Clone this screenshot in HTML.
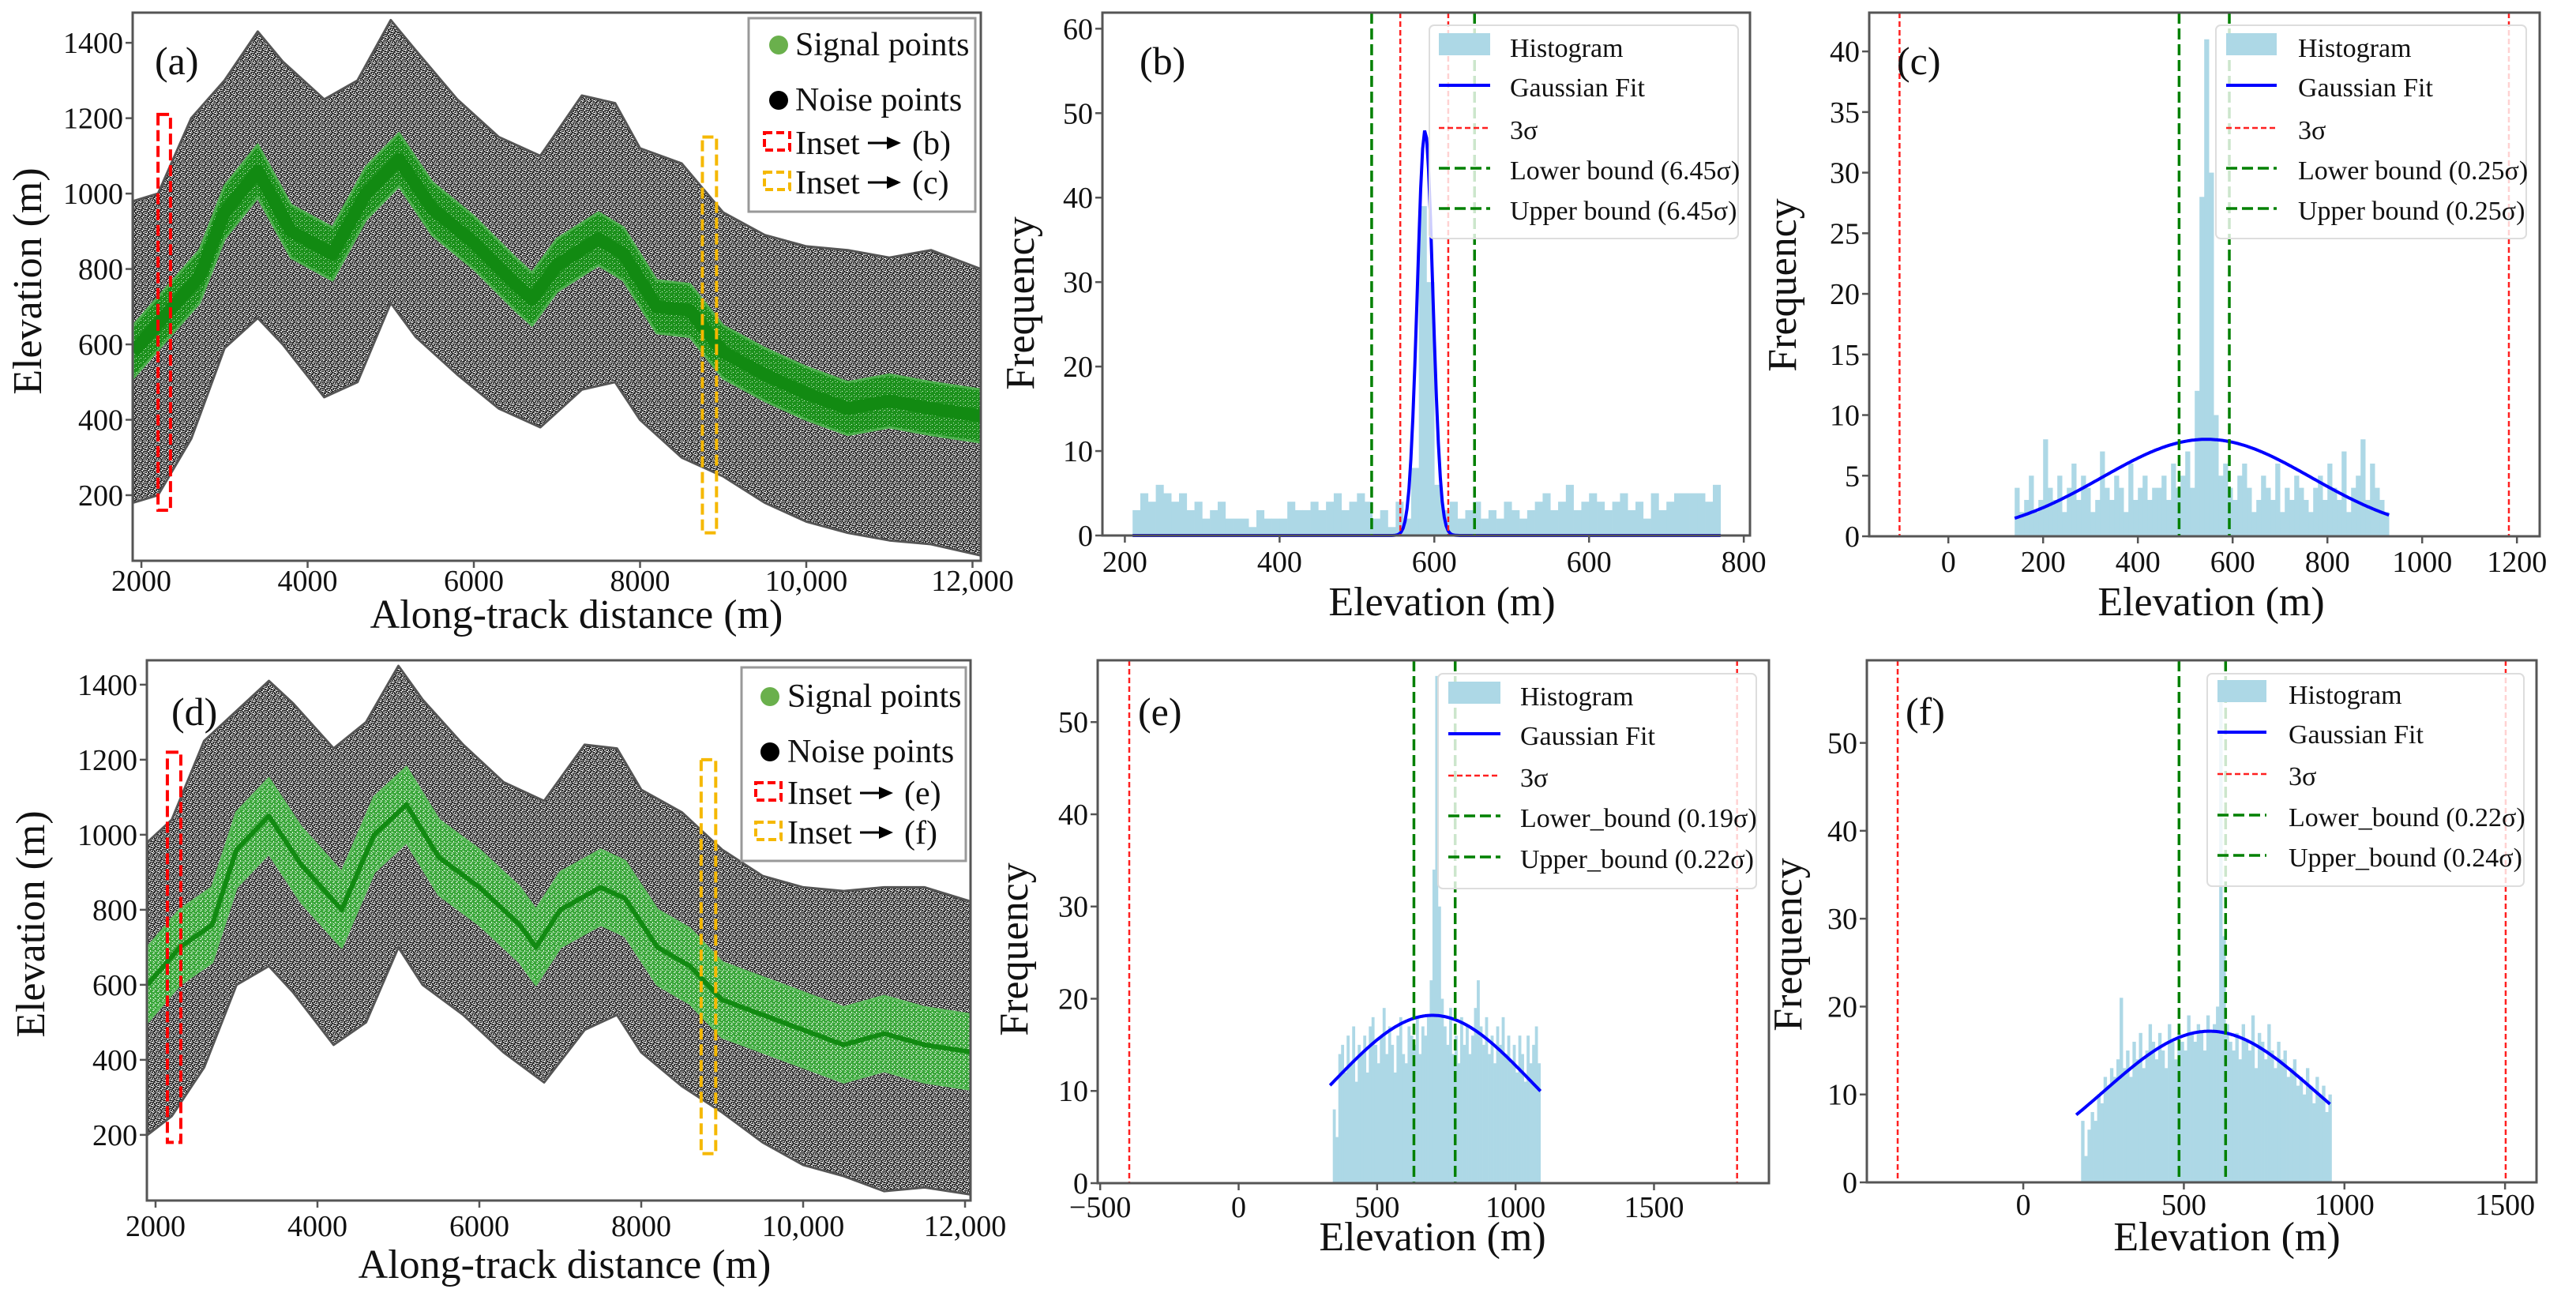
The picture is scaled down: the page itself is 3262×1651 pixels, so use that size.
<!DOCTYPE html>
<html><head><meta charset="utf-8">
<style>
html,body{margin:0;padding:0;background:#fff;}
svg{display:block;font-family:"Liberation Serif",serif;}
</style></head>
<body>
<svg id="root" width="3262" height="1651" viewBox="0 0 3262 1651" xmlns="http://www.w3.org/2000/svg">
<defs>
<pattern id="noisePat" width="8" height="8" patternUnits="userSpaceOnUse">
<rect width="8" height="8" fill="#2a2a2a"/>
<rect x="1" y="0" width="2" height="1" fill="#e0e0e0"/><rect x="5" y="1" width="1" height="2" fill="#f0f0f0"/>
<rect x="0" y="2" width="2" height="1" fill="#cfcfcf"/><rect x="3" y="3" width="2" height="1" fill="#fff"/>
<rect x="7" y="4" width="1" height="2" fill="#ddd"/><rect x="2" y="5" width="1" height="2" fill="#eee"/>
<rect x="5" y="6" width="2" height="1" fill="#e8e8e8"/><rect x="0" y="7" width="2" height="1" fill="#fff"/>
<rect x="4" y="4" width="2" height="1" fill="#aaa"/><rect x="6" y="2" width="2" height="1" fill="#bbb"/>
<rect x="3" y="7" width="1" height="1" fill="#ccc"/><rect x="0" y="5" width="1" height="1" fill="#999"/>
<rect x="6" y="0" width="1" height="1" fill="#ddd"/><rect x="4" y="1" width="1" height="1" fill="#999"/>
<rect x="7" y="7" width="1" height="1" fill="#bbb"/><rect x="1" y="4" width="1" height="1" fill="#aaa"/>
</pattern>
<pattern id="sigPatA" width="6" height="6" patternUnits="userSpaceOnUse">
<rect width="6" height="6" fill="#1c911c"/>
<rect x="1" y="1" width="1" height="1" fill="#bfe6bf"/><rect x="4" y="3" width="1" height="1" fill="#e5f5e5"/>
<rect x="2" y="4" width="1" height="1" fill="#9fd39f"/>
</pattern>
<pattern id="sigPatD" width="6" height="6" patternUnits="userSpaceOnUse">
<rect width="6" height="6" fill="#3aa73a"/>
<rect x="1" y="1" width="2" height="1" fill="#d9f0d9"/><rect x="4" y="3" width="1" height="2" fill="#eef9ee"/>
<rect x="0" y="4" width="1" height="1" fill="#b5e0b5"/><rect x="3" y="0" width="1" height="1" fill="#cdeccd"/>
<rect x="2" y="5" width="1" height="1" fill="#ffffff"/>
</pattern>
</defs>
</svg>
<script>
// ---------- scatter panel data ----------
const noiseXA = [1900,2200,2600,3000,3400,3700,4200,4600,5000,5300,5800,6300,6800,7300,7700,8000,8500,9000,9500,10000,10500,11000,11500,12100];
const noiseTopA = [980,1000,1200,1300,1430,1350,1250,1300,1460,1380,1250,1150,1100,1260,1240,1120,1080,950,890,860,850,830,850,800];
const noiseBotA = [180,200,350,590,670,600,460,500,710,620,520,430,380,480,500,400,300,250,180,130,100,80,70,40];
const signalXA = [1900,2300,2700,3000,3400,3800,4300,4700,5100,5500,6000,6500,6700,7000,7500,7800,8200,8600,9000,9500,10000,10500,11000,11500,12100];
const signalYA = [580,680,780,950,1060,900,840,1000,1090,960,870,760,720,810,880,840,700,690,580,520,470,430,450,430,410];
const noiseXD = [1900,2200,2600,3000,3400,3700,4200,4600,5000,5300,5800,6300,6800,7300,7700,8000,8500,9000,9500,10000,10500,11000,11500,12100];
const noiseTopD = [980,1040,1250,1330,1410,1350,1230,1300,1450,1360,1240,1140,1090,1240,1230,1120,1060,960,890,860,850,860,860,820];
const noiseBotD = [200,250,380,600,650,580,440,500,700,600,520,420,340,480,520,420,330,260,180,120,90,50,60,40];
const signalXD = [1900,2300,2700,3000,3400,3800,4300,4700,5100,5500,6000,6500,6700,7000,7500,7800,8200,8600,9000,9500,10000,10500,11000,11500,12100];
const signalYD = [600,700,760,960,1050,920,800,1000,1080,940,860,760,700,800,860,830,700,650,560,520,480,440,470,440,420];
const scatterXTicks = [2000,4000,6000,8000,10000,12000];
const scatterXLabels = ["2000","4000","6000","8000","10,000","12,000"];
const scatterYTicks = [200,400,600,800,1000,1200,1400];

// ---------- histogram data ----------
const histB = [3,5,4,6,5,4,5,3,4,2, 3,4,2,2,2,1,3,2,2,2, 4,3,3,4,3,4,5,3,4,5, 4,2,3,1,4,2,8,39,30,6, 3,4,2,3,4,2,3,2,4,3, 2,3,4,5,3,4,6,3,4,5, 4,3,4,5,3,4,2,5,3,4, 5,5,5,5,4,6];
const histC = [4,2,3,5,2,3,8,4,3,5, 2,4,6,3,5,4,2,3,7,4, 3,5,4,2,6,3,4,5,3,4, 4,5,3,6,4,5,7,4,12,28, 41,30,10,5,6,4,3,5,6,4, 2,3,5,4,3,6,2,4,3,5, 4,3,2,4,5,3,6,4,3,7, 2,4,5,8,3,6,4,3,2];
const histE = [8,5,14,15,12,16,13,17,11,15, 14,16,12,17,18,15,13,16,19,14, 17,15,12,16,18,14,13,17,16,15, 18,14,17,16,18,22,34,55,30,20, 17,15,19,14,16,13,18,15,17,14, 16,19,22,17,15,18,14,16,13,17, 15,18,14,16,13,15,12,16,14,11, 16,13,15,17,13];
const histF = [7,3,6,8,7,10,9,12,11,13, 12,14,21,13,15,12,16,14,17,13, 15,18,16,14,17,15,13,18,16,14, 17,16,15,19,17,16,18,17,15,19, 17,18,20,55,28,18,16,15,17,14, 18,16,15,19,13,17,16,14,18,15, 13,16,14,15,12,13,14,11,12,10, 13,11,9,12,10,11,8,10];
const histStart = [210,140,340,180];
const histBinW = [10,10,10,10];
const gaussPeak = [48,8,18.2,17.2];
const gaussMu = [588,545,700,580];
const gaussSigma = [10,221,356,327];
const gaussRange = [[210,970],[140,930],[330,1090],[165,955]];
const sigmaLines = [[556,618],[-103,1183],[-395,1800],[-391,1502]];
const boundLines = [[519,652],[487,593],[633,782],[485,630]];
const histXTicksB = [200,400,600,800,1000];
const histXLabelsB = ["200","400","600","600","800"];
const histXTicksC = [0,200,400,600,800,1000,1200];
const histXTicksE = [-500,0,500,1000,1500];
const histXTicksF = [0,500,1000,1500];
const histYTicksB = [0,10,20,30,40,50,60];
const histYTicksC = [0,5,10,15,20,25,30,35,40];
const histYTicksEF = [0,10,20,30,40,50];

const NS="http://www.w3.org/2000/svg";
const root=document.getElementById('root');
function add(tag,attrs,parent,name,inter){
  const el=document.createElementNS(NS,tag);
  for(const k in attrs) el.setAttribute(k,attrs[k]);
  
  
  (parent||root).appendChild(el);
  return el;
}
function lin(d0,d1,r0,r1){return v=>r0+(v-d0)*(r1-r0)/(d1-d0);}
function txt(s,x,y,size,parent,name,anchor,rot){
  const a={x:x,y:y,'font-size':size,fill:'#111','text-anchor':anchor||'middle'};
  if(rot) a.transform='rotate(-90 '+x+' '+y+')';
  const t=add('text',a,parent,name);
  t.textContent=s;return t;
}
function frame(g,b){
  add('rect',{x:b.l,y:b.t,width:b.r-b.l,height:b.b-b.t,fill:'none',stroke:'#555','stroke-width':3},g,'plot-frame');
}

function scatterPanel(cfg){
  const g=add('g',{},root,'panel-'+cfg.id);
  const b=cfg.box;
  const X=lin(cfg.xd[0],cfg.xd[1],b.l,b.r), Y=lin(cfg.yd[0],cfg.yd[1],b.b,b.t);
  const clip=add('clipPath',{id:'clip'+cfg.id},g,'clip');
  add('rect',{x:b.l,y:b.t,width:b.r-b.l,height:b.b-b.t},clip,'clip-rect');
  const pg=add('g',{'clip-path':'url(#clip'+cfg.id+')'},g,'plot-area');
  let pts=[];
  cfg.nx.forEach((x,i)=>pts.push(X(x).toFixed(1)+','+Y(cfg.nt[i]).toFixed(1)));
  for(let i=cfg.nx.length-1;i>=0;i--) pts.push(X(cfg.nx[i]).toFixed(1)+','+Y(cfg.nb[i]).toFixed(1));
  add('polygon',{points:pts.join(' '),fill:'url(#noisePat)',stroke:'#555','stroke-width':3,'stroke-linejoin':'round'},pg,'noise-points-cloud');
  let sp=[];
  cfg.sx.forEach((x,i)=>sp.push(X(x).toFixed(1)+','+Y(cfg.sy[i]+cfg.hw).toFixed(1)));
  for(let i=cfg.sx.length-1;i>=0;i--) sp.push(X(cfg.sx[i]).toFixed(1)+','+Y(cfg.sy[i]-cfg.hw).toFixed(1));
  add('polygon',{points:sp.join(' '),fill:cfg.sigFill,stroke:cfg.sigEdge,'stroke-width':3,'stroke-linejoin':'round'},pg,'signal-points-band');
  add('polyline',{points:cfg.sx.map((x,i)=>X(x).toFixed(1)+','+Y(cfg.sy[i]).toFixed(1)).join(' '),fill:'none',stroke:'#128a12','stroke-width':cfg.cw,'stroke-linejoin':'round'},pg,'signal-centerline');
  cfg.insets.forEach(r=>{
    add('rect',{x:X(r.x0),y:Y(r.y1),width:X(r.x1)-X(r.x0),height:Y(r.y0)-Y(r.y1),fill:'none',stroke:r.c,'stroke-width':4,'stroke-dasharray':'14 6'},pg,r.name);
  });
  frame(g,b);
  scatterXTicks.forEach((v,i)=>{
    add('line',{x1:X(v),x2:X(v),y1:b.b,y2:b.b+9,stroke:'#555','stroke-width':2.5},g,'x-tick');
    txt(scatterXLabels[i],X(v),cfg.xtY,38,g,'x-tick-label');
  });
  scatterYTicks.forEach(v=>{
    add('line',{x1:b.l-9,x2:b.l,y1:Y(v),y2:Y(v),stroke:'#555','stroke-width':2.5},g,'y-tick');
    txt(String(v),b.l-12,Y(v)+13,38,g,'y-tick-label','end');
  });
  txt('Along-track distance (m)',cfg.xl[0],cfg.xl[1],52,g,'x-axis-title');
  txt('Elevation (m)',cfg.yl[0],cfg.yl[1],52,g,'y-axis-title','middle',true);
  txt(cfg.tag,cfg.tg[0],cfg.tg[1],50,g,'panel-label','start');
  const L=cfg.leg;
  const lg=add('g',{},g,'legend');
  add('rect',{x:L.x0,y:L.y0,width:L.x1-L.x0,height:L.y1-L.y0,fill:'#fff','fill-opacity':0.85,stroke:'#999','stroke-width':3},lg,'legend-box');
  add('circle',{cx:L.mx,cy:L.ys[0]-13,r:12,fill:'#6ab04c'},lg,'legend-signal-marker');
  txt('Signal points',L.tx,L.ys[0],42,lg,'legend-entry-signal','start');
  add('circle',{cx:L.mx,cy:L.ys[1]-13,r:12,fill:'#000'},lg,'legend-noise-marker');
  txt('Noise points',L.tx,L.ys[1],42,lg,'legend-entry-noise','start');
  ['#f00','#f5b800'].forEach((c,k)=>{
    const y=L.ys[2+k];
    add('rect',{x:L.mx-18,y:y-27,width:32,height:22,fill:'none',stroke:c,'stroke-width':4,'stroke-dasharray':'10 5'},lg,'legend-inset-marker');
    txt('Inset',L.tx,y,42,lg,'legend-entry-inset','start');
    add('line',{x1:L.tx+92,x2:L.tx+118,y1:y-14,y2:y-14,stroke:'#000','stroke-width':3},lg,'legend-arrow-shaft');
    add('polygon',{points:(L.tx+116)+','+(y-22)+' '+(L.tx+134)+','+(y-14)+' '+(L.tx+116)+','+(y-6),fill:'#000'},lg,'legend-arrow-head');
    txt(cfg.insetTo[k],L.tx+148,y,42,lg,'legend-inset-target','start');
  });
}

scatterPanel({id:'a',tag:'(a)',box:{l:168,r:1242,t:16,b:710},xd:[1895,12100],yd:[26,1480],
  nx:noiseXA,nt:noiseTopA,nb:noiseBotA,sx:signalXA,sy:signalYA,hw:70,cw:16,sigFill:'url(#sigPatA)',sigEdge:'#4fb04f',
  insets:[{x0:2200,x1:2350,y0:160,y1:1210,c:'#f00',name:'inset-b-rect'},{x0:8750,x1:8920,y0:100,y1:1150,c:'#f5b800',name:'inset-c-rect'}],
  xtY:748,xl:[730,795],yl:[52,356],tg:[196,94],
  leg:{x0:948,x1:1235,y0:23,y1:268,mx:986,tx:1007,ys:[70,140,195,245]},insetTo:['(b)','(c)']});
scatterPanel({id:'d',tag:'(d)',box:{l:186,r:1229,t:836,b:1520},xd:[1893,12068],yd:[25,1465],
  nx:noiseXD,nt:noiseTopD,nb:noiseBotD,sx:signalXD,sy:signalYD,hw:100,cw:6,sigFill:'url(#sigPatD)',sigEdge:'#5cbc5c',
  insets:[{x0:2146,x1:2312,y0:180,y1:1220,c:'#f00',name:'inset-e-rect'},{x0:8740,x1:8920,y0:150,y1:1200,c:'#f5b800',name:'inset-f-rect'}],
  xtY:1565,xl:[715,1618],yl:[56,1170],tg:[217,918],
  leg:{x0:939,x1:1223,y0:845,y1:1090,mx:975,tx:997,ys:[895,965,1018,1068]},insetTo:['(e)','(f)']});

function histPanel(cfg){
  const g=add('g',{},root,'panel-'+cfg.id);
  const b=cfg.box;
  const X=lin(cfg.xd[0],cfg.xd[1],b.l,b.r), Y=lin(0,cfg.ymax,b.b,b.t);
  const k=cfg.k;
  const hg=add('g',{},g,'histogram-bars');
  cfg.data.forEach((v,i)=>{
    const x0=histStart[k]+i*histBinW[k];
    add('rect',{x:X(x0),y:Y(v),width:X(x0+histBinW[k])-X(x0)+0.3,height:Y(0)-Y(v),fill:'#add8e6'},hg,'histogram-bar');
  });
  const gp=[];
  const r=gaussRange[k];
  for(let i=0;i<=300;i++){
    const x=r[0]+(r[1]-r[0])*i/300;
    const y=gaussPeak[k]*Math.exp(-Math.pow(x-gaussMu[k],2)/(2*gaussSigma[k]*gaussSigma[k]));
    gp.push(X(x).toFixed(1)+','+Y(y).toFixed(1));
  }
  add('polyline',{points:gp.join(' '),fill:'none',stroke:'#0000ff','stroke-width':4},g,'gaussian-fit-line');
  sigmaLines[k].forEach(v=>add('line',{x1:X(v),x2:X(v),y1:b.t,y2:b.b,stroke:'#ff2020','stroke-width':2.5,'stroke-dasharray':'7 4'},g,'three-sigma-line'));
  boundLines[k].forEach(v=>add('line',{x1:X(v),x2:X(v),y1:b.t,y2:b.b,stroke:'#008000','stroke-width':3.5,'stroke-dasharray':'14 6'},g,'bound-line'));
  frame(g,b);
  cfg.xt.forEach((v,i)=>{
    add('line',{x1:X(v),x2:X(v),y1:b.b,y2:b.b+9,stroke:'#555','stroke-width':2.5},g,'x-tick');
    txt(cfg.xlab?cfg.xlab[i]:String(v).replace('-','\u2212'),X(v),cfg.xtY,38,g,'x-tick-label');
  });
  cfg.yt.forEach(v=>{
    add('line',{x1:b.l-9,x2:b.l,y1:Y(v),y2:Y(v),stroke:'#555','stroke-width':2.5},g,'y-tick');
    txt(String(v),b.l-12,Y(v)+13,38,g,'y-tick-label','end');
  });
  txt('Elevation (m)',cfg.xl[0],cfg.xl[1],52,g,'x-axis-title');
  txt('Frequency',cfg.yl[0],cfg.yl[1],52,g,'y-axis-title','middle',true);
  txt(cfg.tag,cfg.tg[0],cfg.tg[1],50,g,'panel-label','start');
  const L=cfg.leg;
  const lg=add('g',{},g,'legend');
  add('rect',{x:L.x0,y:L.y0,width:L.x1-L.x0,height:L.y1-L.y0,rx:6,fill:'#fff','fill-opacity':0.8,stroke:'#ddd','stroke-width':2},lg,'legend-box');
  const ys=L.ys;
  add('rect',{x:L.h0,y:ys[0]-30,width:L.h1-L.h0,height:28,fill:'#add8e6'},lg,'legend-histogram-swatch');
  add('line',{x1:L.h0,x2:L.h1,y1:ys[1]-14,y2:ys[1]-14,stroke:'#00f','stroke-width':4},lg,'legend-gaussian-swatch');
  add('line',{x1:L.h0,x2:L.h1,y1:ys[2]-14,y2:ys[2]-14,stroke:'#ff2020','stroke-width':2.5,'stroke-dasharray':'7 4'},lg,'legend-sigma-swatch');
  add('line',{x1:L.h0,x2:L.h1,y1:ys[3]-14,y2:ys[3]-14,stroke:'#008000','stroke-width':3.5,'stroke-dasharray':'14 6'},lg,'legend-lower-swatch');
  add('line',{x1:L.h0,x2:L.h1,y1:ys[4]-14,y2:ys[4]-14,stroke:'#008000','stroke-width':3.5,'stroke-dasharray':'14 6'},lg,'legend-upper-swatch');
  cfg.labels.forEach((s,i)=>{
    txt(s,L.tx,ys[i],34,lg,'legend-entry','start');
  });
}

histPanel({id:'b',k:0,tag:'(b)',data:histB,box:{l:1396,r:2216,t:16,b:678},xd:[171,1008],ymax:61.9,
  xt:histXTicksB,xlab:histXLabelsB,yt:histYTicksB,xtY:724,xl:[1826,779],yl:[1309,384],tg:[1443,94],
  leg:{x0:1810,x1:2201,y0:32,y1:302,h0:1822,h1:1887,tx:1912,ys:[72,122,176,227,278]},
  labels:['Histogram','Gaussian Fit','3\u03c3','Lower bound (6.45\u03c3)','Upper bound (6.45\u03c3)']});
histPanel({id:'c',k:1,tag:'(c)',data:histC,box:{l:2367,r:3216,t:16,b:679},xd:[-167,1248],ymax:43.2,
  xt:histXTicksC,yt:histYTicksC,xtY:724,xl:[2800,779],yl:[2274,361],tg:[2402,94],
  leg:{x0:2806,x1:3199,y0:32,y1:302,h0:2819,h1:2883,tx:2910,ys:[72,122,176,227,278]},
  labels:['Histogram','Gaussian Fit','3\u03c3','Lower bound (0.25\u03c3)','Upper bound (0.25\u03c3)']});
histPanel({id:'e',k:2,tag:'(e)',data:histE,box:{l:1390,r:2240,t:836,b:1498},xd:[-509,1915],ymax:56.7,
  xt:histXTicksE,yt:histYTicksEF,xtY:1541,xl:[1814,1583],yl:[1301,1202],tg:[1441,918],
  leg:{x0:1821,x1:2224,y0:853,y1:1125,h0:1834,h1:1900,tx:1925,ys:[893,943,996,1047,1099]},
  labels:['Histogram','Gaussian Fit','3\u03c3','Lower_bound (0.19\u03c3)','Upper_bound (0.22\u03c3)']});
histPanel({id:'f',k:3,tag:'(f)',data:histF,box:{l:2364,r:3212,t:836,b:1497},xd:[-487,1598],ymax:59.4,
  xt:histXTicksF,yt:histYTicksEF,xtY:1538,xl:[2820,1583],yl:[2281,1196],tg:[2413,918],
  leg:{x0:2795,x1:3196,y0:853,y1:1122,h0:2808,h1:2870,tx:2898,ys:[891,941,994,1046,1097]},
  labels:['Histogram','Gaussian Fit','3\u03c3','Lower_bound (0.22\u03c3)','Upper_bound (0.24\u03c3)']});
</script>
</body></html>
